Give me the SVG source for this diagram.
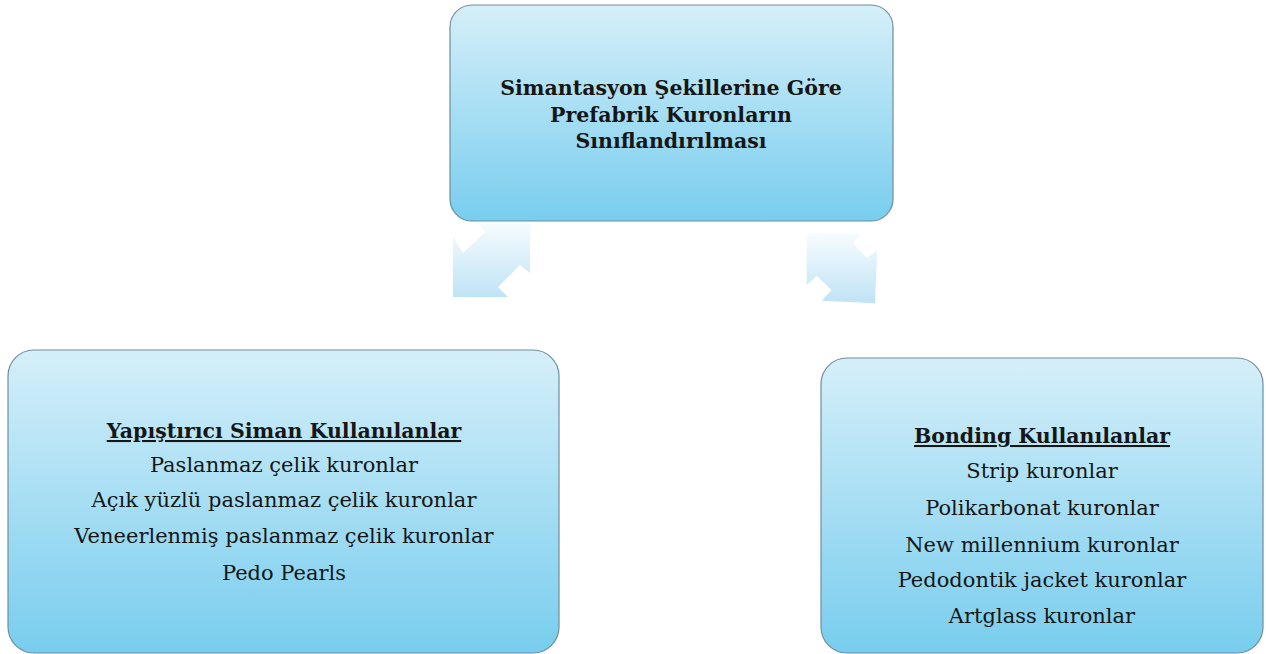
<svg xmlns="http://www.w3.org/2000/svg" width="1266" height="654" viewBox="0 0 1266 654">
<defs>
<linearGradient id="boxg" x1="0" y1="0" x2="0" y2="1">
<stop offset="0" stop-color="#d5eff9"/>
<stop offset="1" stop-color="#78cdee"/>
</linearGradient>
<linearGradient id="arrg" x1="0" y1="0" x2="0" y2="1">
<stop offset="0" stop-color="#f7fcfe"/>
<stop offset="1" stop-color="#bfe3f6"/>
</linearGradient>
<style>
.box{fill:url(#boxg);stroke:#6f8e9c;stroke-width:1.2}
.arr{fill:url(#arrg)}
text{font-family:"DejaVu Serif","Liberation Serif",serif;fill:#161616;text-anchor:middle}
.t{font-weight:bold;font-size:20.5px}
.h{font-weight:bold;font-size:20.5px;text-decoration:underline}
.b{font-size:21px}
</style>
</defs>
<g id="connectors">
<polygon class="arr" points="477,222 530,222 530,273 520,265 498,287 508,297 453,297 453,237 463,253 485,232"/>
<polygon class="arr" points="806.7,233.3 861.7,234 853.3,243.3 866.7,258.3 877.3,250 875,303.3 821.7,300.7 831.7,290 816.7,276 806.7,285"/>
</g>
<g id="node-top">
<rect class="box" x="450" y="5" width="443" height="216" rx="22"/>
<text class="t" x="671" y="95">Simantasyon Şekillerine Göre</text>
<text class="t" x="671" y="122">Prefabrik Kuronların</text>
<text class="t" x="671" y="148">Sınıflandırılması</text>
</g>
<g id="node-left">
<rect class="box" x="8" y="350" width="551" height="303" rx="26"/>
<text class="h" x="284" y="438">Yapıştırıcı Siman Kullanılanlar</text>
<text class="b" x="284" y="472">Paslanmaz çelik kuronlar</text>
<text class="b" x="284" y="507">Açık yüzlü paslanmaz çelik kuronlar</text>
<text class="b" x="284" y="543">Veneerlenmiş paslanmaz çelik kuronlar</text>
<text class="b" x="284" y="580">Pedo Pearls</text>
</g>
<g id="node-right">
<rect class="box" x="821" y="358" width="442" height="295" rx="26"/>
<text class="h" x="1042" y="443">Bonding Kullanılanlar</text>
<text class="b" x="1042" y="478">Strip kuronlar</text>
<text class="b" x="1042" y="515">Polikarbonat kuronlar</text>
<text class="b" x="1042" y="552">New millennium kuronlar</text>
<text class="b" x="1042" y="587">Pedodontik jacket kuronlar</text>
<text class="b" x="1042" y="623">Artglass kuronlar</text>
</g>
</svg>
